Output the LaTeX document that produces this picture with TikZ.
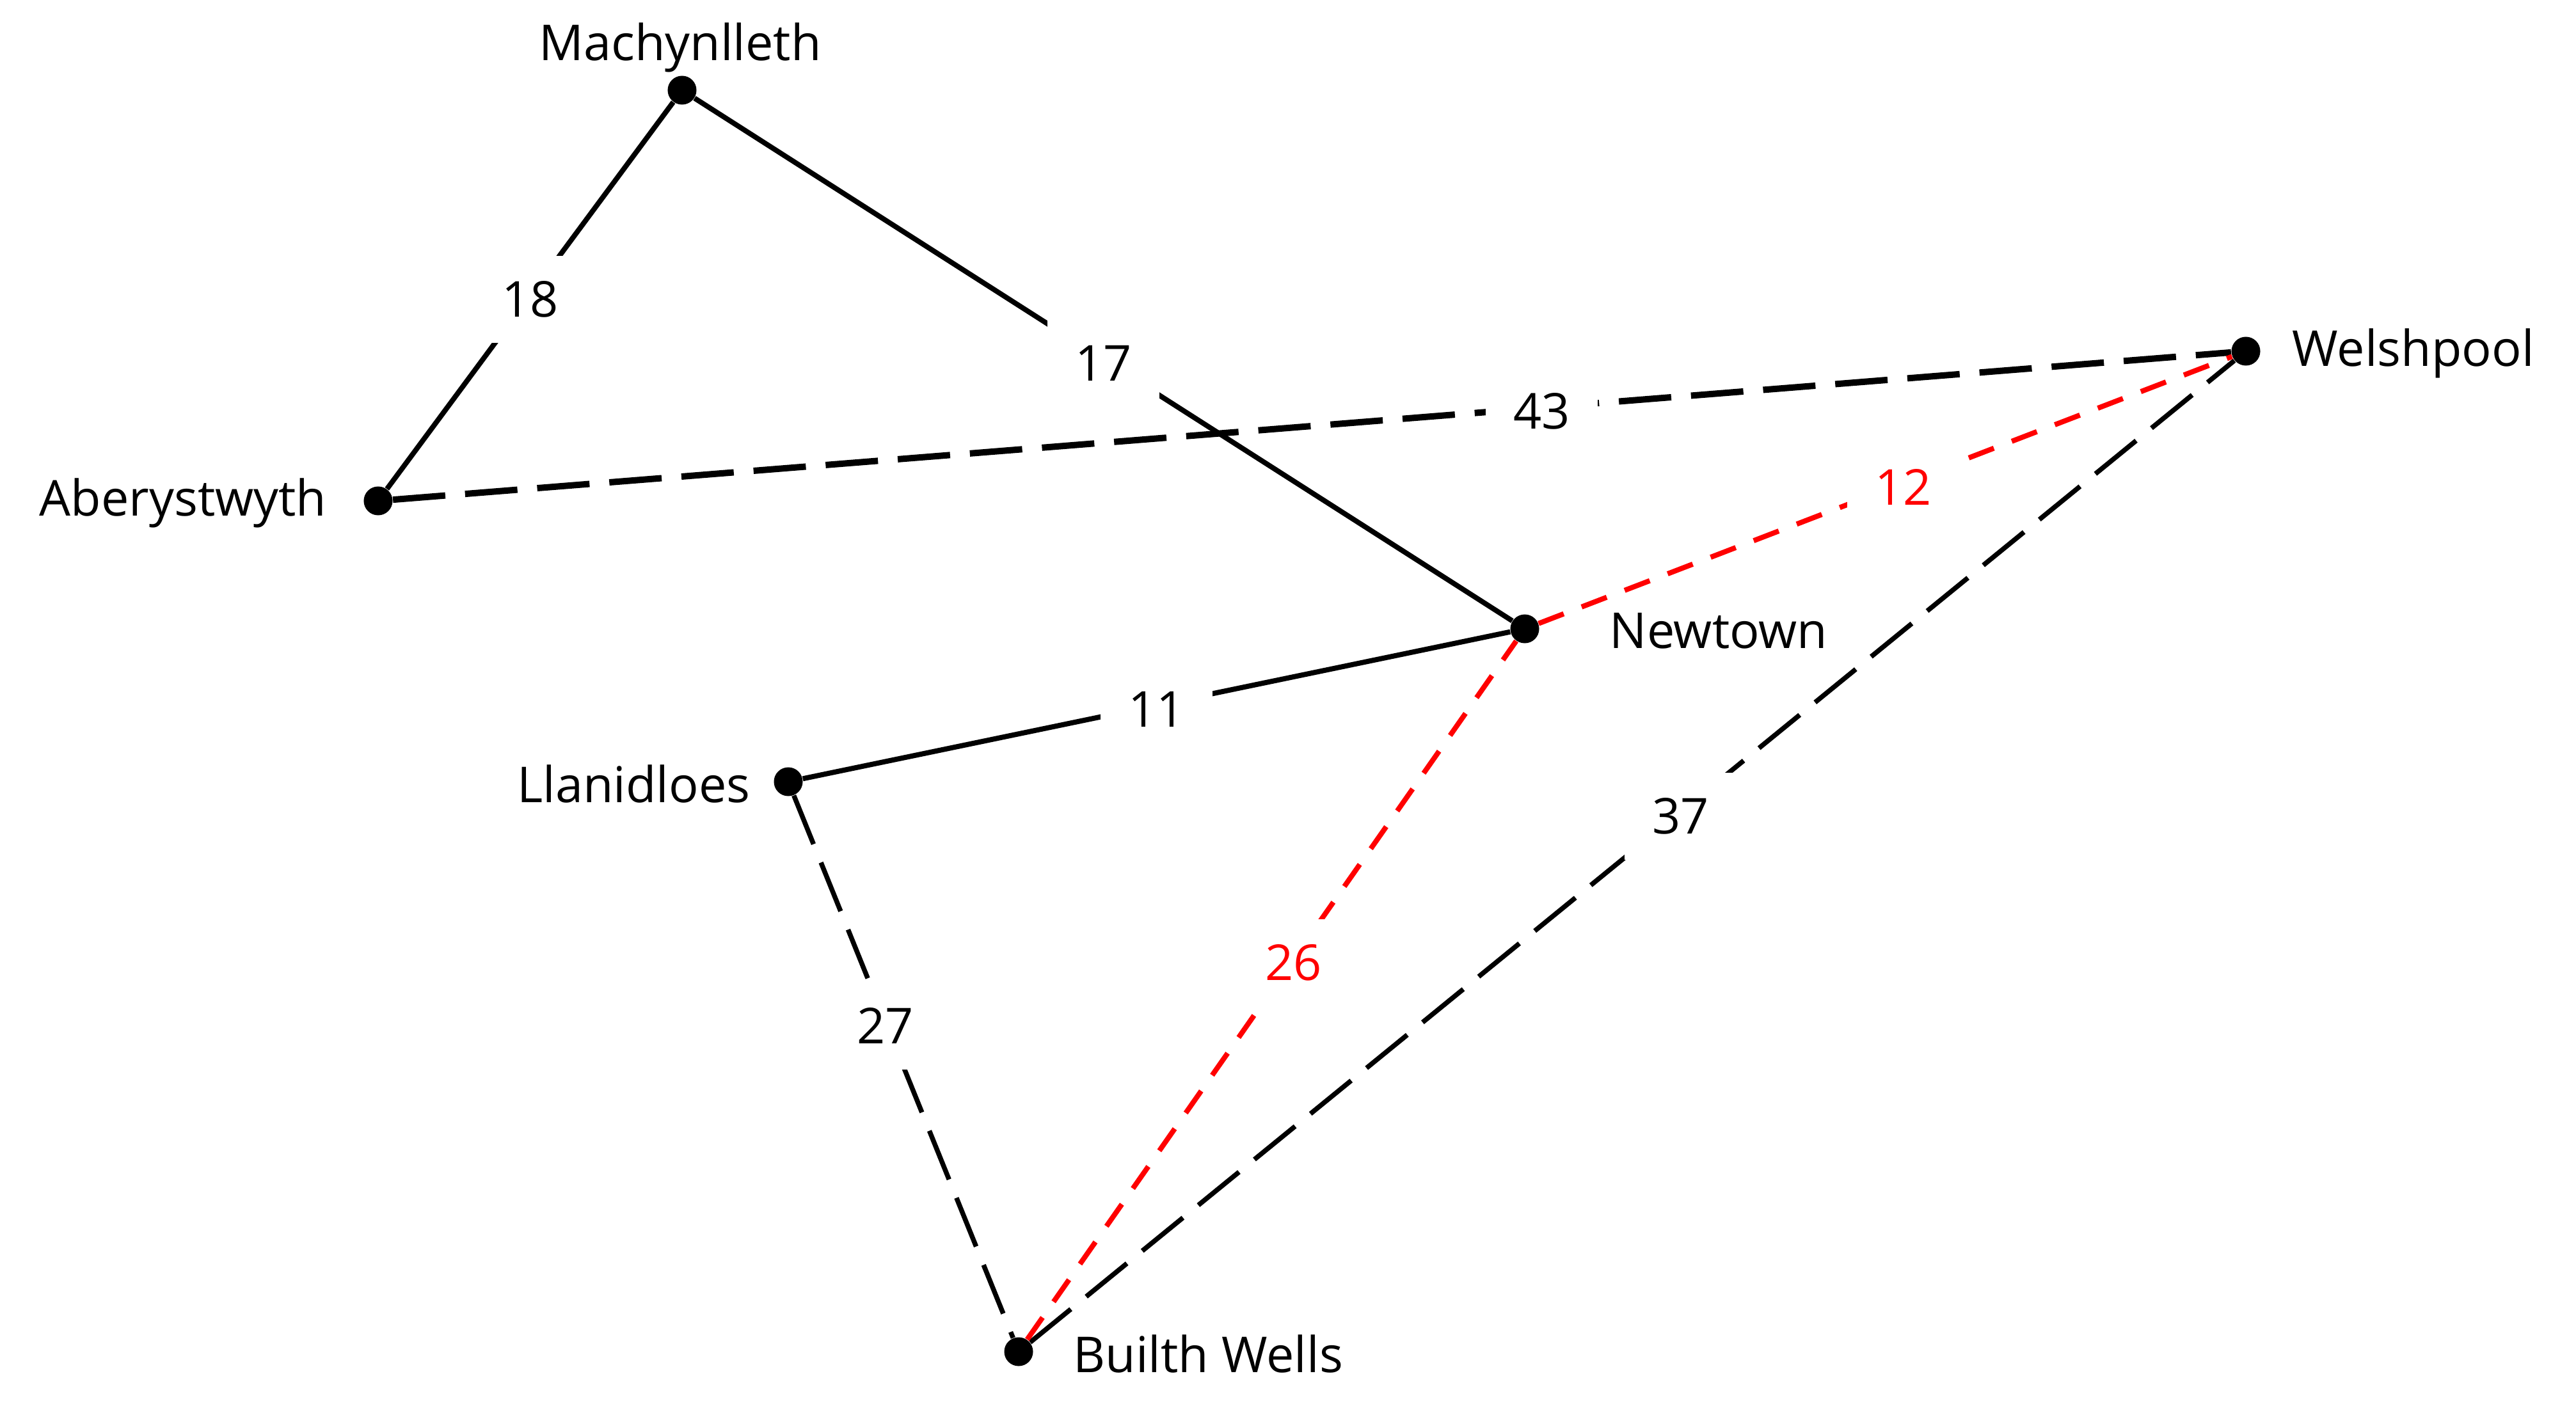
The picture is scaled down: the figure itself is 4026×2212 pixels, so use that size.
\documentclass[tikz,border=0pt]{standalone}
\usepackage{fontspec}
\setmainfont{Open Sans}
\begin{document}
\begin{tikzpicture}[x=0.01cm,y=-0.01cm,
  dot/.style={circle,fill=black,inner sep=0pt,minimum size=0.45cm},
  city/.style={font=\fontsize{22}{26}\selectfont,inner sep=0pt},
  elab/.style={font=\fontsize{22}{26}\selectfont,fill=white,inner sep=0pt,minimum width=1.75cm,minimum height=1.36cm,yshift=-0.06cm},
  solidedge/.style={line width=0.08cm},
  longdash/.style={line width=0.075cm,dash pattern=on 0.82cm off 0.31cm},
  thickdash/.style={line width=0.1cm,dash pattern=on 0.82cm off 0.31cm},
  reddash/.style={line width=0.08cm,red,dash pattern=on 0.42cm off 0.3cm}]
\useasboundingbox (0,0) rectangle (4026,2212);
% nodes
\node[dot] (mach) at (1066,141) {};
\node[dot] (aber) at (591,783) {};
\node[dot] (wels) at (3510,549) {};
\node[dot] (newt) at (2383,983) {};
\node[dot] (llan) at (1232,1222) {};
\node[dot] (buil) at (1592,2113) {};
% city labels
\node[city] (machL) at (1063,74) {Machynlleth};
\node[city,anchor=east] (aberL) at (511,786) {Aberystwyth};
\node[city,anchor=west] (welsL) at (3582,552) {Welshpool};
\node[city,anchor=west] (newtL) at (2515,986) {Newtown};
\node[city,anchor=east] (llanL) at (1173,1225) {Llanidloes};
\node[city,anchor=west] (builL) at (1677,2116) {Builth Wells};
% edges
\draw[solidedge] (mach) -- node[elab] (e18) {18} (aber);
\draw[solidedge] (mach) -- node[elab] (e17) {17} (newt);
\draw[solidedge] (llan) -- node[elab] (e11) {11} (newt);
\draw[thickdash] (aber) -- node[elab,pos=0.625] (e43) {43} (wels);
\draw[longdash] (llan) -- node[elab,pos=0.418] (e27) {27} (buil);
\draw[longdash] (buil) -- node[elab,pos=0.54] (e37) {37} (wels);
\draw[reddash] (newt) -- node[elab,text=red,pos=0.526] (e12) {12} (wels);
\draw[reddash] (buil) -- node[elab,text=red,pos=0.545] (e26) {26} (newt);
\end{tikzpicture}
\end{document}
